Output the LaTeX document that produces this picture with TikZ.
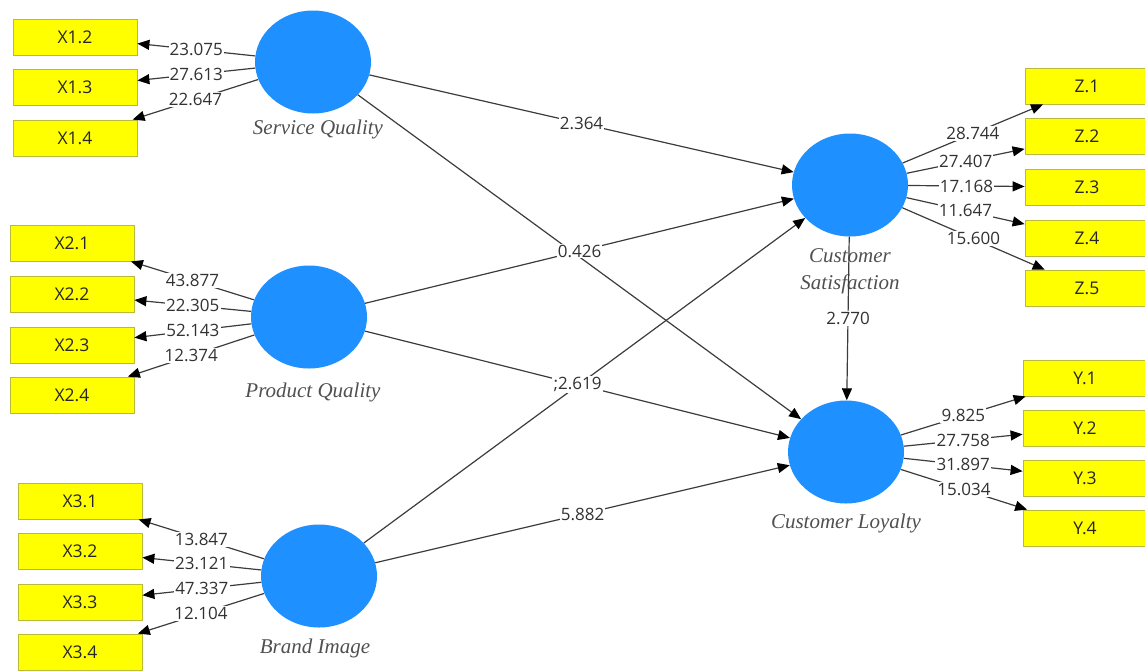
\documentclass[tikz,border=0pt]{standalone}
\usepackage{fontspec}
\setmainfont{Open Sans}
\newfontfamily\lvfont{Liberation Serif}
\usetikzlibrary{shapes.geometric,arrows.meta}
\definecolor{lvblue}{RGB}{30,144,255}
\definecolor{boxyellow}{RGB}{255,255,0}
\definecolor{boxedge}{RGB}{185,185,60}
\definecolor{numgray}{RGB}{50,50,50}
\definecolor{namegray}{RGB}{80,80,80}
\definecolor{linegray}{RGB}{60,60,60}
\tikzset{
  latent/.style={ellipse, fill=lvblue, minimum width=116pt, minimum height=103pt, inner sep=0pt},
  ind/.style={draw=boxedge, line width=0.8pt, fill=boxyellow, minimum width=124pt, minimum height=36pt, inner sep=0pt, font=\fontsize{17.5}{20}\selectfont, text=black!85},
  lvname/.style={font=\lvfont\itshape\fontsize{21}{27}\selectfont, text=namegray, align=center},
  link/.style={draw=linegray, line width=1.2pt, -{Triangle[length=12pt,width=10pt,color=black]}},
  coef/.style={fill=white, inner sep=1.2pt, font=\fontsize{17}{19}\selectfont, text=numgray, pos=0.5}
}
\begin{document}
\begin{tikzpicture}[x=1pt,y=-1pt]
\useasboundingbox (0,0) rectangle (1145,670);
% latent variables
\node[latent] (SQ) at (313,62) {};
\node[latent] (PQ) at (309,317) {};
\node[latent] (BI) at (319,576) {};
\node[latent] (CS) at (850,185) {};
\node[latent] (CL) at (846,452) {};
\node[lvname] (SQn) at (318,129) {Service Quality};
\node[lvname] (PQn) at (313,392) {Product Quality};
\node[lvname] (BIn) at (315,648) {Brand Image};
\node[lvname] (CSn) at (850,271) {Customer\\Satisfaction};
\node[lvname] (CLn) at (846,523) {Customer Loyalty};
% indicators
\node[ind] (X12) at (75,37) {X1.2};
\node[ind] (X13) at (75,87) {X1.3};
\node[ind] (X14) at (75,138) {X1.4};
\node[ind] (X21) at (72,243) {X2.1};
\node[ind] (X22) at (72,294) {X2.2};
\node[ind] (X23) at (72,345) {X2.3};
\node[ind] (X24) at (72,395) {X2.4};
\node[ind] (X31) at (80,501) {X3.1};
\node[ind] (X32) at (80,551) {X3.2};
\node[ind] (X33) at (80,602) {X3.3};
\node[ind] (X34) at (80,652) {X3.4};
\node[ind] (Z1) at (1087,86) {Z.1};
\node[ind] (Z2) at (1087,136) {Z.2};
\node[ind] (Z3) at (1087,187) {Z.3};
\node[ind] (Z4) at (1087,238) {Z.4};
\node[ind] (Z5) at (1087,288) {Z.5};
\node[ind] (Y1) at (1085,378) {Y.1};
\node[ind] (Y2) at (1085,428) {Y.2};
\node[ind] (Y3) at (1085,478) {Y.3};
\node[ind] (Y4) at (1085,528) {Y.4};
% outer loadings
\draw[link] (SQ) -- node[coef]{23.075} (X12);
\draw[link] (SQ) -- node[coef]{27.613} (X13);
\draw[link] (SQ) -- node[coef]{22.647} (X14);
\draw[link] (PQ) -- node[coef]{43.877} (X21);
\draw[link] (PQ) -- node[coef]{22.305} (X22);
\draw[link] (PQ) -- node[coef]{52.143} (X23);
\draw[link] (PQ) -- node[coef]{12.374} (X24);
\draw[link] (BI) -- node[coef]{13.847} (X31);
\draw[link] (BI) -- node[coef]{23.121} (X32);
\draw[link] (BI) -- node[coef]{47.337} (X33);
\draw[link] (BI) -- node[coef]{12.104} (X34);
\draw[link] (CS) -- node[coef]{28.744} (Z1);
\draw[link] (CS) -- node[coef]{27.407} (Z2);
\draw[link] (CS) -- node[coef]{17.168} (Z3);
\draw[link] (CS) -- node[coef]{11.647} (Z4);
\draw[link] (CS) -- node[coef]{15.600} (Z5);
\draw[link] (CL) -- node[coef]{9.825} (Y1);
\draw[link] (CL) -- node[coef]{27.758} (Y2);
\draw[link] (CL) -- node[coef]{31.897} (Y3);
\draw[link] (CL) -- node[coef]{15.034} (Y4);
% structural paths
\draw[link] (SQ) -- node[coef]{2.364} (CS);
\draw[link] (SQ) -- (CL);
\draw[link] (PQ) -- node[coef]{0.426} (CS);
\draw[link] (BI) -- (CS);
\draw[link] (PQ) -- node[coef]{;2.619} (CL);
\draw[link] (BI) -- node[coef]{5.882} (CL);
\draw[link] (CS) -- node[coef]{2.770} (CL);
\end{tikzpicture}
\end{document}
